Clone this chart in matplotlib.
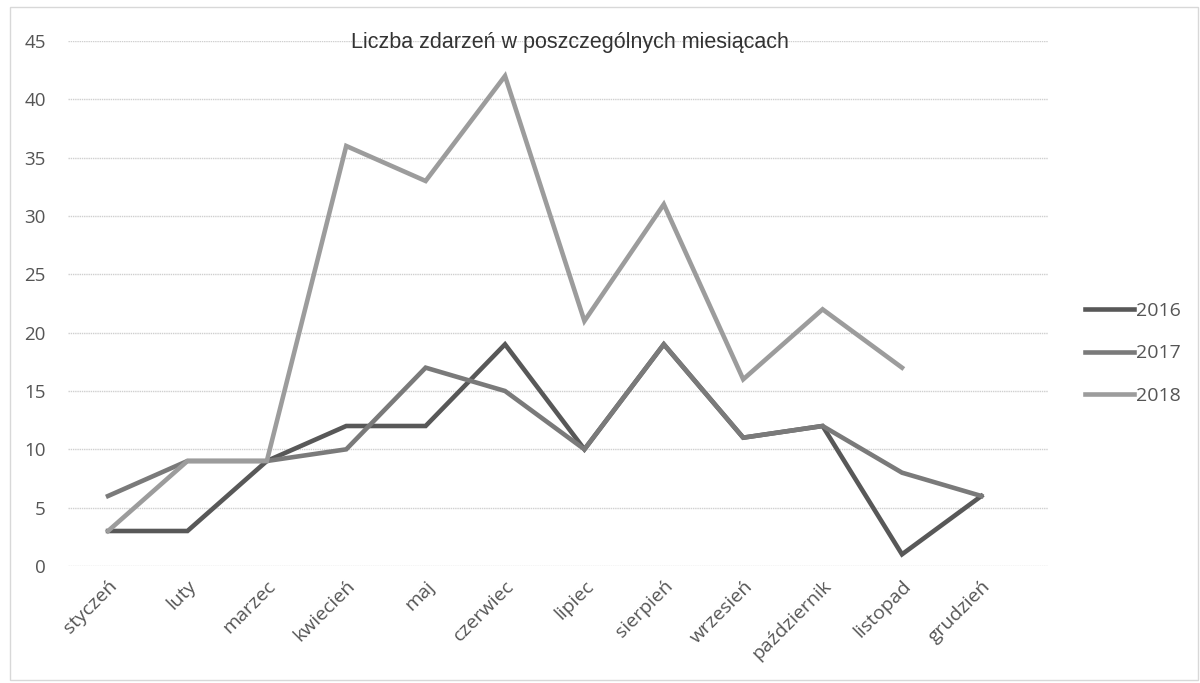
import matplotlib
matplotlib.use("Agg")
import matplotlib.pyplot as plt
import matplotlib.transforms as mtransforms
from matplotlib.patches import Rectangle

months = ["styczeń", "luty", "marzec", "kwiecień", "maj", "czerwiec",
          "lipiec", "sierpień", "wrzesień", "październik", "listopad", "grudzień"]
s2016 = [3, 3, 9, 12, 12, 19, 10, 19, 11, 12, 1, 6]
s2017 = [6, 9, 9, 10, 17, 15, 10, 19, 11, 12, 8, 6]
s2018 = [3, 9, 9, 36, 33, 42, 21, 31, 16, 22, 17, None]
years = ["2016", "2017", "2018"]
colors = ["#585858", "#7a7a7a", "#9c9c9c"]
yticks = list(range(0, 50, 5))
title = "Liczba zdarzeń w poszczególnych miesiącach"

plt.rcParams['font.family'] = ['Open Sans', 'DejaVu Sans']

fig = plt.figure(figsize=(12, 6.83), dpi=100)
fig.patches.append(Rectangle((0.008, 0.005), 0.99, 0.985, transform=fig.transFigure,
                             fill=False, edgecolor="#d8d8d8", linewidth=1))
ax = fig.add_axes([0.0567, 0.1713, 0.8167, 0.7687])

x = list(range(len(months)))
for name, data, c in zip(years, [s2016, s2017, s2018], colors):
    xs = [i for i, v in zip(x, data) if v is not None]
    ys = [v for v in data if v is not None]
    ax.plot(xs, ys, color=c, linewidth=3.3, label=name, solid_joinstyle='miter', zorder=3)

ax.set_ylim(0, 45)
ax.set_xlim(-0.504, 11.84)
ax.set_yticks(yticks)
ax.set_yticklabels([str(t) for t in yticks], fontsize=13.5, color="#555555")
ax.set_xticks(x)
ax.set_xticklabels(months, rotation=45, ha='right', rotation_mode='anchor',
                   fontsize=14, color="#555555")
offset = mtransforms.ScaledTranslation(-8 / 100, 0, fig.dpi_scale_trans)
for lbl in ax.get_xticklabels():
    lbl.set_transform(lbl.get_transform() + offset)
ax.tick_params(axis='y', length=0, pad=16)
ax.tick_params(axis='x', length=0, pad=8)
ax.grid(axis='y', color="#cfcfcf", linewidth=1, linestyle=(0, (1, 0.6)))
ax.set_axisbelow(True)
for sp in ax.spines.values():
    sp.set_visible(False)

fig.text(0.475, 0.938, title, ha='center', va='center', fontsize=15.5,
         family=['Liberation Sans', 'DejaVu Sans'], color="#333333")

leg = ax.legend(loc='center left', bbox_to_anchor=(1.02, 0.405), frameon=False,
                fontsize=14, handlelength=2.5, labelspacing=1.25, handletextpad=0.1)
for t in leg.get_texts():
    t.set_color("#555555")

fig.savefig("out.png", dpi=100, facecolor="white")
